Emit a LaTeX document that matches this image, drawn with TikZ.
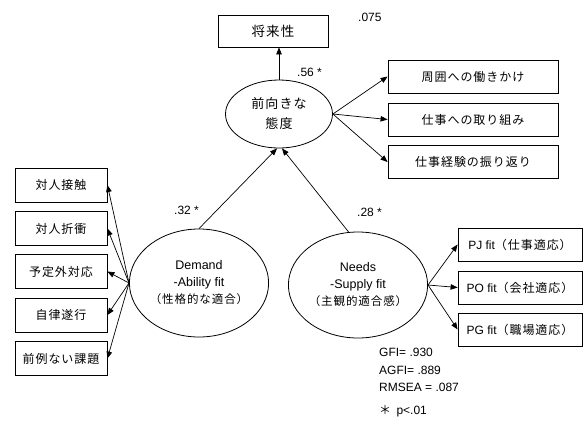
\documentclass[tikz,border=0pt]{standalone}
\usepackage{fontspec}
\setmainfont{Liberation Sans}
\newfontfamily\jp[LetterSpace=8]{Noto Sans CJK JP}
\usetikzlibrary{arrows.meta,shapes.geometric}

\tikzset{
  box/.style={draw, line width=0.8pt, inner sep=0pt, font=\jp\fontsize{12}{14}\selectfont},
  oval/.style={draw, ellipse, line width=0.8pt, inner sep=0pt, align=center},
  path arrow/.style={line width=0.7pt, -{Triangle[length=7pt,width=5.5pt]}},
  stat/.style={anchor=west, inner sep=0pt, font=\fontsize{12}{14}\selectfont},
}

\begin{document}
\begin{tikzpicture}[x=1pt, y=-1pt]
  \useasboundingbox (0,0) rectangle (585,424);

  % outcome
  \node[box, minimum width=110pt, minimum height=32pt, font=\jp\fontsize{13.5}{15}\selectfont] (fut) at (273,31) {将来性};
  \node[stat] (r2) at (358,17) {.075};

  % central latent factor
  \node[oval, minimum width=107pt, minimum height=68pt, font=\jp\fontsize{13}{20}\selectfont] (pos) at (279,114) {前向きな\\態度};
  \node[stat] (p56) at (297,72) {.56 *};

  % indicators of the central factor
  \node[box, minimum width=170pt, minimum height=33pt] (a1) at (473,76.5) {周囲への働きかけ};
  \node[box, minimum width=170pt, minimum height=33pt] (a2) at (473,119.5) {仕事への取り組み};
  \node[box, minimum width=170pt, minimum height=33pt] (a3) at (473,162) {仕事経験の振り返り};

  % Demand-Ability fit and its indicators
  \node[oval, minimum width=132pt, minimum height=108pt, font=\fontsize{12.5}{17}\selectfont] (da) at (199,283)
    {Demand\\-Ability fit\\{\jp\fontsize{11.5}{13}\selectfont （性格的な適合）}};
  \node[stat] (p32) at (174,210) {.32 *};

  \node[box, minimum width=92pt, minimum height=34pt] (d1) at (61,185) {対人接触};
  \node[box, minimum width=92pt, minimum height=34pt] (d2) at (61,228.5) {対人折衝};
  \node[box, minimum width=92pt, minimum height=34pt] (d3) at (61,271.5) {予定外対応};
  \node[box, minimum width=92pt, minimum height=34pt] (d4) at (61,315) {自律遂行};
  \node[box, minimum width=92pt, minimum height=34pt] (d5) at (61,358.5) {前例ない課題};

  % Needs-Supply fit and its indicators
  \node[oval, minimum width=136pt, minimum height=106pt, font=\fontsize{12.5}{17}\selectfont] (ns) at (358,285)
    {Needs\\-Supply fit\\{\jp\fontsize{11.5}{13}\selectfont （主観的適合感）}};
  \node[stat] (p28) at (357,212) {.28 *};

  \node[box, minimum width=124pt, minimum height=33pt] (n1) at (520,244.5) {{\fontspec{Liberation Sans}PJ fit}（仕事適応）};
  \node[box, minimum width=124pt, minimum height=33pt] (n2) at (520,287.5) {{\fontspec{Liberation Sans}PO fit}（会社適応）};
  \node[box, minimum width=124pt, minimum height=33pt] (n3) at (520,329.5) {{\fontspec{Liberation Sans}PG fit}（職場適応）};

  % fit indices
  \node[stat] (gfi) at (379,352) {GFI= .930};
  \node[stat] (agfi) at (379,370) {AGFI= .889};
  \node[stat] (rmsea) at (379,387) {RMSEA = .087};
  \node[stat] (sig) at (379,411) {{\jp ＊}\, p<.01};

  % structural paths
  \draw[path arrow] (pos.north) -- (pos.north |- fut.south);
  \draw[path arrow] (da.north) -- ([xshift=-2pt]pos.south);
  \draw[path arrow] (ns.100) -- ([xshift=3pt]pos.south);

  % measurement paths
  \foreach \t in {a1,a2,a3} \draw[path arrow] (pos.east) -- (\t.west);
  \foreach \t in {d1,d2,d3,d4,d5} \draw[path arrow] (da.west) -- (\t.east);
  \foreach \t in {n1,n2,n3} \draw[path arrow] (ns.east) -- (\t.west);
\end{tikzpicture}
\end{document}
